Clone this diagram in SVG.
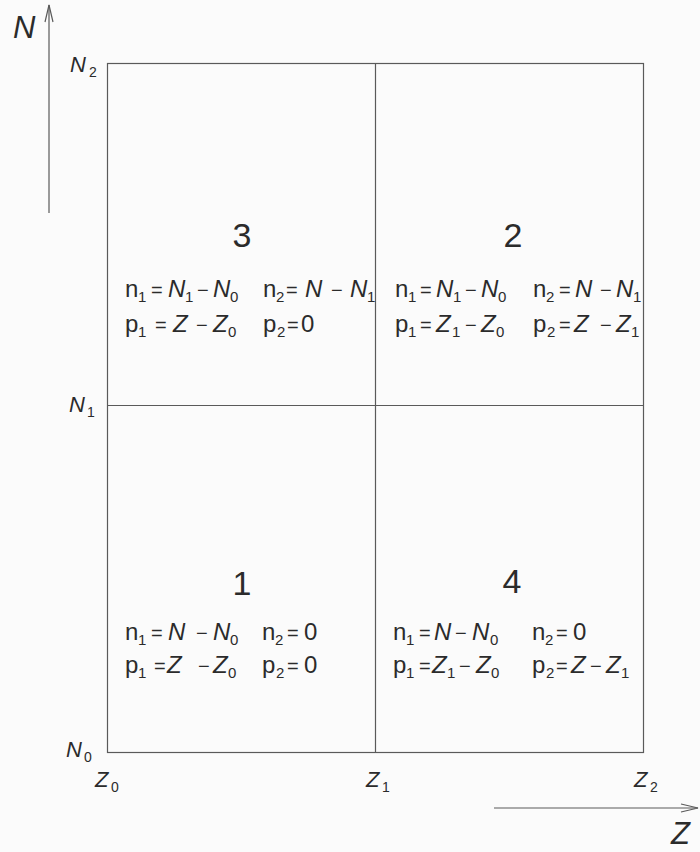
<svg xmlns="http://www.w3.org/2000/svg" width="700" height="852" viewBox="0 0 700 852">
<defs>
<style>
.ln{fill:none;stroke:#5a5a5a;stroke-width:1.2}
text{font-family:"Liberation Sans","DejaVu Sans",sans-serif;fill:#2b2b2b;font-size:24px}
.i{font-style:italic}
.s{font-size:15px}
.o{font-size:20px}
.num{font-size:34px;text-anchor:middle}
.ax{font-size:31px;font-style:italic}
.lb{font-size:22px;font-style:italic}
.ls{font-size:14px}
</style>
<marker id="arr" markerUnits="userSpaceOnUse" markerWidth="20" markerHeight="12" refX="18" refY="5" orient="auto">
<path d="M1,1 L18,5 L1,9" fill="none" stroke="#5a5a5a" stroke-width="1.2"/>
</marker>
</defs>
<rect width="700" height="852" fill="#fbfbfb"/>

<g id="axes">
<line class="ln" x1="49" y1="213" x2="49" y2="5" marker-end="url(#arr)"/>
<line class="ln" x1="494" y1="808" x2="698" y2="808" marker-end="url(#arr)"/>
<text class="ax" x="13" y="38">N</text>
<text class="ax" x="671" y="844">Z</text>
<text><tspan class="lb" x="70" y="72">N</tspan><tspan class="ls" x="89" y="77">2</tspan></text>
<text><tspan class="lb" x="69" y="412">N</tspan><tspan class="ls" x="87" y="417">1</tspan></text>
<text><tspan class="lb" x="66" y="757">N</tspan><tspan class="ls" x="84" y="762">0</tspan></text>
<text><tspan class="lb" x="95" y="787">Z</tspan><tspan class="ls" x="111" y="792">0</tspan></text>
<text><tspan class="lb" x="366" y="787">Z</tspan><tspan class="ls" x="382" y="792">1</tspan></text>
<text><tspan class="lb" x="634" y="787">Z</tspan><tspan class="ls" x="650" y="792">2</tspan></text>
</g>

<g id="grid">
<rect class="ln" x="107.5" y="63.5" width="536" height="689"/>
<line class="ln" x1="375.5" y1="63.5" x2="375.5" y2="752.5"/>
<line class="ln" x1="107.5" y1="405.5" x2="643.5" y2="405.5"/>
</g>

<g id="region3">
<text class="num" x="242" y="247">3</text>
<text><tspan x="125" y="297">n</tspan><tspan class="s" x="138" y="302">1</tspan><tspan class="o" x="151" y="297">=</tspan><tspan class="i" x="168" y="297">N</tspan><tspan class="s" x="185" y="302">1</tspan><tspan class="o" x="197" y="297">−</tspan><tspan class="i" x="213" y="297">N</tspan><tspan class="s" x="230" y="302">0</tspan></text>
<text><tspan x="263" y="297">n</tspan><tspan class="s" x="276" y="302">2</tspan><tspan class="o" x="286" y="297">=</tspan><tspan class="i" x="305" y="297">N</tspan><tspan class="o" x="331" y="297">−</tspan><tspan class="i" x="350" y="297">N</tspan><tspan class="s" x="367" y="302">1</tspan></text>
<text><tspan x="125" y="332">p</tspan><tspan class="s" x="138" y="337">1</tspan><tspan class="o" x="155" y="332">=</tspan><tspan class="i" x="173" y="332">Z</tspan><tspan class="o" x="196" y="332">−</tspan><tspan class="i" x="213" y="332">Z</tspan><tspan class="s" x="228" y="337">0</tspan></text>
<text><tspan x="263" y="332">p</tspan><tspan class="s" x="277" y="337">2</tspan><tspan class="o" x="287" y="332">=</tspan><tspan x="301" y="332">0</tspan></text>
</g>

<g id="region2">
<text class="num" x="513" y="247">2</text>
<text><tspan x="395" y="297">n</tspan><tspan class="s" x="408" y="302">1</tspan><tspan class="o" x="420" y="297">=</tspan><tspan class="i" x="436" y="297">N</tspan><tspan class="s" x="453" y="302">1</tspan><tspan class="o" x="465" y="297">−</tspan><tspan class="i" x="481" y="297">N</tspan><tspan class="s" x="498" y="302">0</tspan></text>
<text><tspan x="533" y="297">n</tspan><tspan class="s" x="546" y="302">2</tspan><tspan class="o" x="559" y="297">=</tspan><tspan class="i" x="575" y="297">N</tspan><tspan class="o" x="600" y="297">−</tspan><tspan class="i" x="616" y="297">N</tspan><tspan class="s" x="633" y="302">1</tspan></text>
<text><tspan x="395" y="332">p</tspan><tspan class="s" x="408" y="337">1</tspan><tspan class="o" x="420" y="332">=</tspan><tspan class="i" x="436" y="332">Z</tspan><tspan class="s" x="452" y="337">1</tspan><tspan class="o" x="465" y="332">−</tspan><tspan class="i" x="481" y="332">Z</tspan><tspan class="s" x="496" y="337">0</tspan></text>
<text><tspan x="533" y="332">p</tspan><tspan class="s" x="547" y="337">2</tspan><tspan class="o" x="559" y="332">=</tspan><tspan class="i" x="574" y="332">Z</tspan><tspan class="o" x="600" y="332">−</tspan><tspan class="i" x="616" y="332">Z</tspan><tspan class="s" x="631" y="337">1</tspan></text>
</g>

<g id="region1">
<text class="num" x="242" y="595">1</text>
<text><tspan x="125" y="640">n</tspan><tspan class="s" x="138" y="645">1</tspan><tspan class="o" x="151" y="640">=</tspan><tspan class="i" x="168" y="640">N</tspan><tspan class="o" x="196" y="640">−</tspan><tspan class="i" x="213" y="640">N</tspan><tspan class="s" x="230" y="645">0</tspan></text>
<text><tspan x="262" y="640">n</tspan><tspan class="s" x="275" y="645">2</tspan><tspan class="o" x="287" y="640">=</tspan><tspan x="304" y="640">0</tspan></text>
<text><tspan x="125" y="673">p</tspan><tspan class="s" x="138" y="678">1</tspan><tspan class="o" x="154" y="673">=</tspan><tspan class="i" x="167" y="673">Z</tspan><tspan class="o" x="198" y="673">−</tspan><tspan class="i" x="213" y="673">Z</tspan><tspan class="s" x="228" y="678">0</tspan></text>
<text><tspan x="262" y="673">p</tspan><tspan class="s" x="276" y="678">2</tspan><tspan class="o" x="287" y="673">=</tspan><tspan x="304" y="673">0</tspan></text>
</g>

<g id="region4">
<text class="num" x="512" y="593">4</text>
<text><tspan x="393" y="640">n</tspan><tspan class="s" x="406" y="645">1</tspan><tspan class="o" x="419" y="640">=</tspan><tspan class="i" x="434" y="640">N</tspan><tspan class="o" x="455" y="640">−</tspan><tspan class="i" x="472" y="640">N</tspan><tspan class="s" x="490" y="645">0</tspan></text>
<text><tspan x="532" y="640">n</tspan><tspan class="s" x="545" y="645">2</tspan><tspan class="o" x="556" y="640">=</tspan><tspan x="573" y="640">0</tspan></text>
<text><tspan x="393" y="673">p</tspan><tspan class="s" x="406" y="678">1</tspan><tspan class="o" x="419" y="673">=</tspan><tspan class="i" x="432" y="673">Z</tspan><tspan class="s" x="447" y="678">1</tspan><tspan class="o" x="459" y="673">−</tspan><tspan class="i" x="476" y="673">Z</tspan><tspan class="s" x="491" y="678">0</tspan></text>
<text><tspan x="532" y="673">p</tspan><tspan class="s" x="546" y="678">2</tspan><tspan class="o" x="556" y="673">=</tspan><tspan class="i" x="571" y="673">Z</tspan><tspan class="o" x="590" y="673">−</tspan><tspan class="i" x="606" y="673">Z</tspan><tspan class="s" x="621" y="678">1</tspan></text>
</g>
</svg>
